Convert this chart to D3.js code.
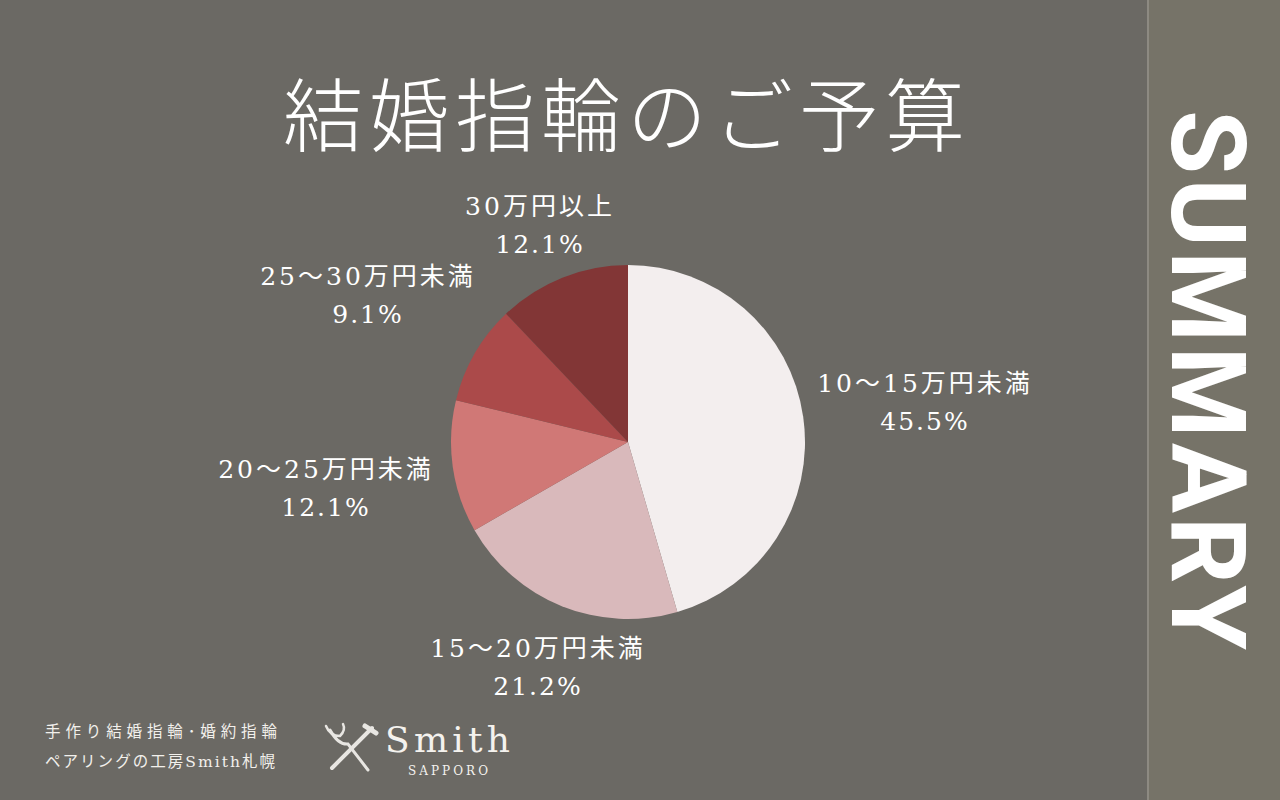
<!DOCTYPE html>
<html><head><meta charset="utf-8">
<script src="https://cdn.jsdelivr.net/npm/d3@7"></script>
<style>html,body{margin:0;padding:0;background:#6b6964;}svg{display:block;}</style>
</head><body>
<svg id="c" width="1280" height="800"></svg>
<script>
const categories = ["10〜15万円未満","15〜20万円未満","20〜25万円未満","25〜30万円未満","30万円以上"];
const values = [45.5, 21.2, 12.1, 9.1, 12.1];
const valueLabels = ["45.5%","21.2%","12.1%","9.1%","12.1%"];
const colors = ["#f3eeee","#d9b9bb","#d07876","#ab4a4a","#823636"];
const labelPos = [[925,383],[538,648],[326,469],[368,276],[540,206]];

const svg = d3.select("#c");
svg.append("rect").attr("width",1280).attr("height",800).attr("fill","#6b6964");
// right panel
svg.append("rect").attr("x",1147).attr("y",0).attr("width",133).attr("height",800).attr("fill","#767368");
svg.append("rect").attr("x",1147).attr("y",0).attr("width",2).attr("height",800).attr("fill","#8d8a82");
svg.append("text").attr("transform","translate(1172,380) rotate(90)")
  .attr("text-anchor","middle").attr("font-family","Roboto, 'Open Sans', sans-serif")
  .attr("font-weight","bold").attr("font-size",104).attr("fill","#ffffff")
  .attr("textLength",540).attr("lengthAdjust","spacing").text("SUMMARY");

const serif = "'DejaVu Serif','Noto Sans CJK JP',serif";
// title
svg.append("text").attr("x",624).attr("y",145).attr("text-anchor","middle")
  .attr("font-family","'Noto Sans CJK JP',sans-serif").attr("font-weight",300).attr("font-size",80)
  .attr("fill","#ffffff").attr("textLength",682).attr("lengthAdjust","spacing").text("結婚指輪のご予算");

// pie
const cx = 628, cy = 442, r = 177;
const pie = d3.pie().sort(null).value(d=>d)(values);
const arc = d3.arc().innerRadius(0).outerRadius(r);
const g = svg.append("g").attr("transform",`translate(${cx},${cy})`);
g.selectAll("path").data(pie).join("path").attr("d",arc).attr("fill",(d,i)=>colors[i]);

// labels
const lg = svg.append("g").attr("font-family",serif).attr("font-size",25).attr("fill","#ffffff").attr("text-anchor","middle");
categories.forEach((c,i)=>{
  const [x,y] = labelPos[i];
  lg.append("text").attr("x",x).attr("y",y+9).attr("letter-spacing",3).text(c);
  lg.append("text").attr("x",x).attr("y",y+47).attr("letter-spacing",2).text(valueLabels[i]);
});

// footer text
const fg = svg.append("g").attr("font-family",serif).attr("font-size",15.5).attr("fill","#f2f0ec");
fg.append("text").attr("x",45).attr("y",737).attr("textLength",232).attr("lengthAdjust","spacing").text("手作り結婚指輪･婚約指輪");
fg.append("text").attr("x",45).attr("y",767).attr("textLength",230).attr("lengthAdjust","spacing").text("ペアリングの工房Smith札幌");

// logo
const logo = svg.append("g").attr("stroke","#e8e6e2").attr("fill","none").attr("stroke-linecap","round");
logo.append("line").attr("x1",332).attr("y1",768).attr("x2",372).attr("y2",728).attr("stroke-width",4);
logo.append("path").attr("d","M365 726 L376 733").attr("stroke-width",5);
logo.append("path").attr("d","M330 730 Q338 745 348 744 L368 770").attr("stroke-width",3);
logo.append("path").attr("d","M326 726 Q330 736 340 736 Q346 730 343 724").attr("stroke-width",2.5);
svg.append("text").attr("x",385).attr("y",752).attr("font-family","'DejaVu Serif',serif").attr("font-size",36)
  .attr("fill","#f4f2ee").attr("textLength",125).attr("lengthAdjust","spacing").text("Smith");
svg.append("text").attr("x",408).attr("y",775).attr("font-family","'DejaVu Serif',serif").attr("font-size",12)
  .attr("fill","#f4f2ee").attr("textLength",80).attr("lengthAdjust","spacing").text("SAPPORO");
</script>
</body></html>
